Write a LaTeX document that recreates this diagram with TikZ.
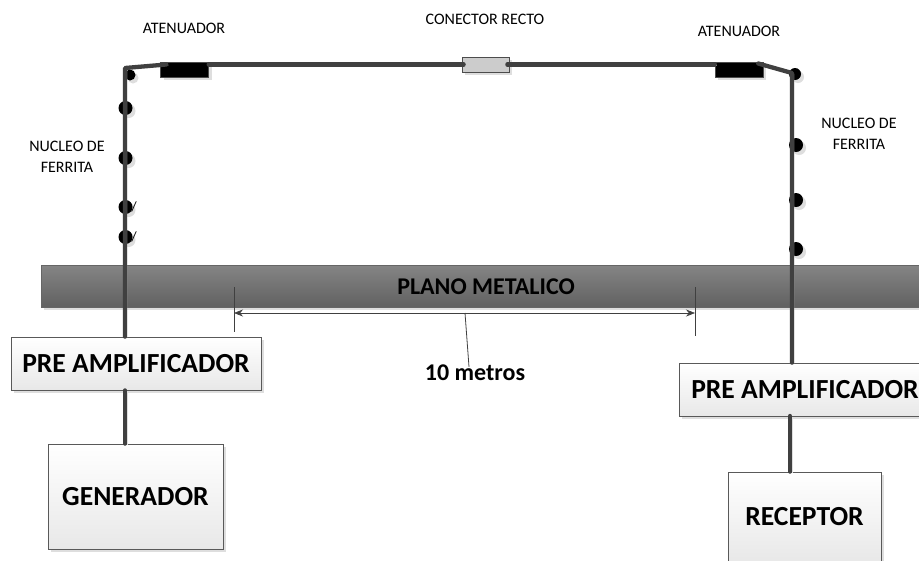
\documentclass[tikz,border=0pt]{standalone}
\usepackage{fontspec}
\setmainfont{Carlito}
\usetikzlibrary{shadows,arrows.meta}
\definecolor{wirecol}{HTML}{404040}
\tikzset{
  wire/.style={draw=wirecol,line width=4.3pt,line cap=round,line join=round,
    preaction={draw=black!13,transform canvas={xshift=2pt,yshift=-1pt}}},
  dimline/.style={draw=wirecol,line width=0.8pt},
  softshadow/.style={drop shadow={shadow xshift=3pt,shadow yshift=-3pt,fill=black!13,opacity=1}},
  block/.style={draw=black!65,line width=0.8pt,top color=white,bottom color=black!9,softshadow,
    inner sep=0pt,font=\bfseries\fontsize{27.6}{28}\selectfont},
  atten/.style={draw=black!70,fill=black,minimum width=48pt,minimum height=15pt,inner sep=0pt,softshadow},
  ferrite/.style={circle,fill=black,minimum size=14pt,inner sep=0pt,softshadow},
  tag/.style={align=center,inner sep=0pt,font=\fontsize{16}{20.5}\selectfont},
}
\begin{document}
\begin{tikzpicture}[x=1pt,y=-1pt]
  \useasboundingbox (0,0) rectangle (919,560);
  \clip (0,0) rectangle (919,560);
  \fill[white] (0,0) rectangle (919,560);
  \node[draw=black!60,line width=0.8pt,top color=black!48,bottom color=black!62,softshadow,
    minimum width=900pt,minimum height=42pt,inner sep=0pt] (plane) at (491,286) {};
  \node[inner sep=0pt,font=\bfseries\fontsize{24}{24}\selectfont] (planelabel) at (486,286.5) {PLANO METALICO};
  \draw
    (125.5,108) node[ferrite] (f1){}
    (125.5,158) node[ferrite] (f2){}
    (125.5,207) node[ferrite] (f3){}
    (125.5,237) node[ferrite] (f4){}
    (130,75) node[ferrite,minimum size=11pt] (f5){}
    (796,145) node[ferrite] (f6){}
    (796,200) node[ferrite] (f7){}
    (796,249) node[ferrite] (f8){}
    (795,74) node[ferrite,minimum size=12pt] (f9){};
  \draw
    (184.5,69.5) node[atten] (at1){}
    (739,69.5) node[atten] (at2){}
    (485.5,64.5) node[draw=black!70,line width=0.8pt,fill=black!20,softshadow,minimum width=47pt,minimum height=15pt,inner sep=0pt] (con){}
    (136,363.5) node[block,minimum width=250pt,minimum height=53pt] (pre1){PRE AMPLIFICADOR}
    (805,389.5) node[block,minimum width=252pt,minimum height=53pt] (pre2){PRE AMPLIFICADOR}
    (135.5,496.5) node[block,minimum width=175pt,minimum height=105pt] (gen){GENERADOR}
    (804.5,517) node[block,minimum width=153pt,minimum height=90pt] (rec){RECEPTOR};
  \coordinate (c1) at (125,68);
  \coordinate (c2) at (792,73);
  \coordinate (c3) at (790,416);
  \coordinate (d1) at (234,287);
  \coordinate (d2) at (234,332);
  \coordinate (d3) at (695,287);
  \coordinate (d4) at (695,336);
  \coordinate (d5) at (234,313);
  \coordinate (d6) at (695,313);
  \coordinate (d7) at (465,313);
  \draw[wire] (pre1.north -| c1) -- (c1) -- ([xshift=6pt,yshift=5pt]at1.west);
  \draw[wire] ([yshift=5pt]at1.east) -- ([xshift=2pt]con.west);
  \draw[wire] ([xshift=-2pt]con.east) -- ([yshift=5pt]at2.west);
  \draw[wire] ([xshift=-5pt,yshift=6pt]at2.east) -- (c2) -- (pre2.north -| c2);
  \draw[wire] (pre1.south -| c1) -- (gen.north -| c1);
  \draw[wire] (c3) -- (rec.north -| c3);
  \begin{scope}[dimline]
    \draw (d1) -- (d2);
    \draw (d3) -- (d4);
    \draw[{Stealth[length=9pt,width=7pt]}-{Stealth[length=9pt,width=7pt]},line width=0.6pt] (d5) -- (d6);
  \end{scope}
  \node[inner sep=0pt,font=\bfseries\fontsize{24}{24}\selectfont] (dist) at (475,373) {10 metros};
  \draw[dimline] (d7) -- ([xshift=-6pt,yshift=-2pt]dist.north);
  \node[tag] (t1) at (184,28) {ATENUADOR};
  \node[tag] (t2) at (485,19) {CONECTOR RECTO};
  \node[tag] (t3) at (739,31) {ATENUADOR};
  \node[tag] (t4) at (67,157) {NUCLEO DE\\FERRITA};
  \node[tag] (t5) at (859,134) {NUCLEO DE\\FERRITA};
  \node[inner sep=0pt,font=\fontsize{14}{14}\selectfont] (v1) at (134,207) {/};
  \node[inner sep=0pt,font=\fontsize{14}{14}\selectfont] (v2) at (134,237) {/};
\end{tikzpicture}
\end{document}
